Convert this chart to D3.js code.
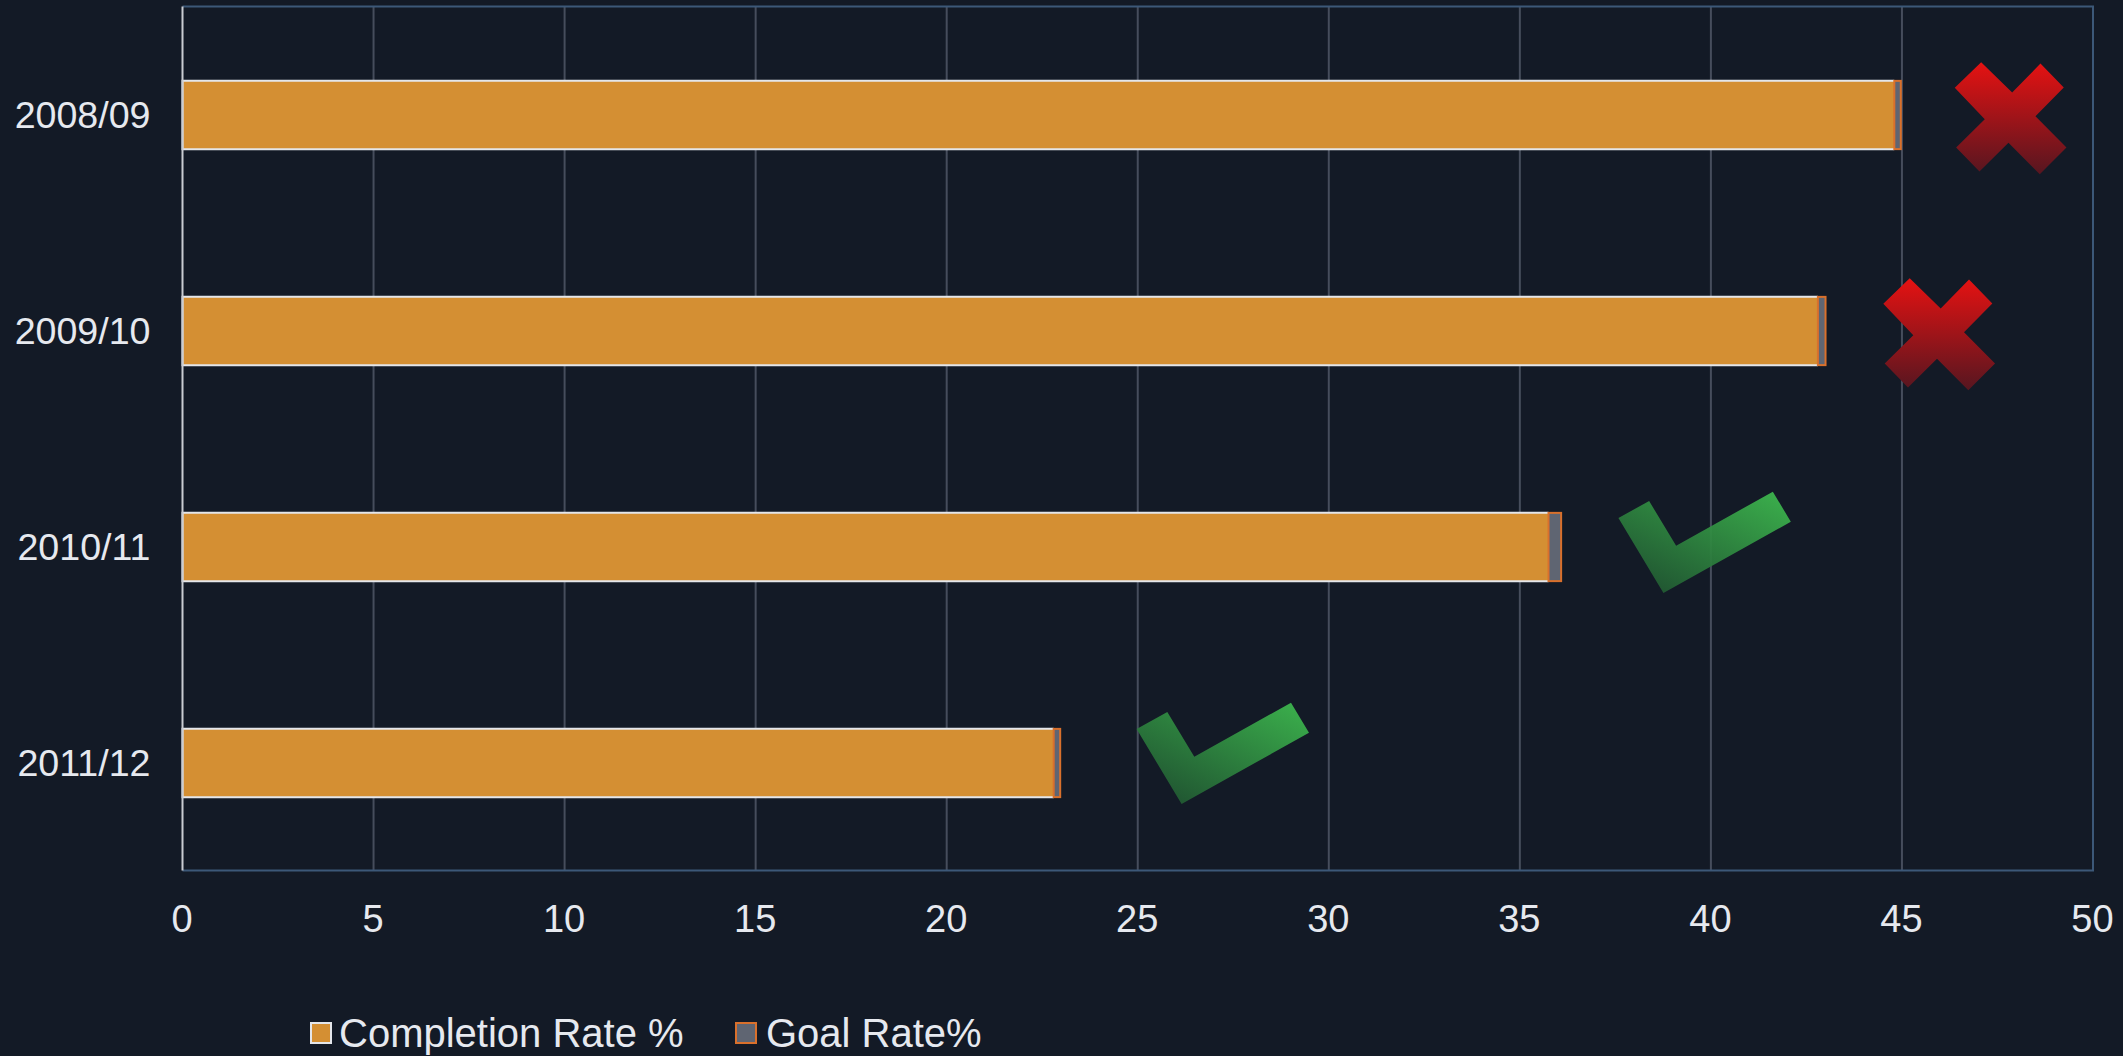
<!DOCTYPE html>
<html><head><meta charset="utf-8">
<script src="https://cdn.jsdelivr.net/npm/d3@7"></script>
<style>
html,body{margin:0;padding:0;background:#131a26;overflow:hidden}
svg{display:block}
text{font-family:"Liberation Sans",Arial,sans-serif;fill:#e6e9ef}
</style></head><body>
<svg id="c" width="2123" height="1056"></svg>
<script>
const categories = ["2008/09","2009/10","2010/11","2011/12"];
const completionRate = [44.8,42.8,35.75,22.8];
const goalRate = [44.97,43,36.08,22.97];
const statusMarks = ["cross","cross","check","check"];
const markAt = [47.84,45.97,39.09,26.48];
const xTicks = [0,5,10,15,20,25,30,35,40,45,50];
const legendLabels = ["Completion Rate %","Goal Rate%"];

const W=2123,H=1056,plotL=182.5,plotR=2093,plotT=6.5,plotB=870.5;
const svg=d3.select("#c");
svg.append("rect").attr("width",W).attr("height",H).attr("fill","#131a26");
const defs=svg.append("defs");
const g1=defs.append("linearGradient").attr("id","gCross").attr("x1",0).attr("y1",0).attr("x2",0).attr("y2",1);
g1.append("stop").attr("offset",0).attr("stop-color","#e61212");
g1.append("stop").attr("offset",1).attr("stop-color","#561620");
const g2=defs.append("linearGradient").attr("id","gCheck").attr("x1",0.08).attr("y1",1).attr("x2",0.95).attr("y2",0.05);
g2.append("stop").attr("offset",0).attr("stop-color","#1f5230");
g2.append("stop").attr("offset",1).attr("stop-color","#3db84e");

const x=d3.scaleLinear().domain([0,50]).range([plotL,plotR]);
const y=d3.scaleBand().domain(categories).range([plotT+0.5,plotB+0.5]).paddingInner(0.684).paddingOuter(0.342);

// grid
svg.append("g").selectAll("line").data(xTicks.slice(1,-1)).join("line")
 .attr("x1",d=>x(d)).attr("x2",d=>x(d)).attr("y1",plotT).attr("y2",plotB)
 .attr("stroke","#464d5c").attr("stroke-width",2);
// frame
svg.append("path").attr("d",d3.line()([[plotL,plotT],[plotR,plotT],[plotR,plotB],[plotL,plotB]]))
 .attr("fill","none").attr("stroke","#3c5878").attr("stroke-width",2);

// completion bars: outlined on three sides only
svg.append("g").selectAll("rect").data(categories).join("rect")
 .attr("x",x(0)).attr("y",d=>y(d)).attr("height",y.bandwidth())
 .attr("width",(d,i)=>x(completionRate[i])-x(0))
 .attr("fill","#d48f33");
svg.append("g").selectAll("path").data(categories).join("path")
 .attr("d",(d,i)=>d3.line()([[x(completionRate[i]),y(d)],[x(0),y(d)],[x(0),y(d)+y.bandwidth()],[x(completionRate[i]),y(d)+y.bandwidth()]]))
 .attr("fill","none").attr("stroke","#e4e6ea").attr("stroke-width",2);
// goal segment
svg.append("g").selectAll("rect").data(categories).join("rect")
 .attr("x",(d,i)=>x(completionRate[i])).attr("y",d=>y(d)).attr("height",y.bandwidth())
 .attr("width",(d,i)=>x(goalRate[i])-x(completionRate[i]))
 .attr("fill","#5f6572").attr("stroke","#d9702c").attr("stroke-width",2);

// left axis line
svg.append("line").attr("x1",plotL).attr("x2",plotL).attr("y1",plotT).attr("y2",plotB)
 .attr("stroke","#c9ccd2").attr("stroke-width",2);

// axes
const xAxis=svg.append("g").attr("transform",`translate(-1,${plotB})`)
 .call(d3.axisBottom(x).tickValues(xTicks).tickSize(0).tickPadding(35));
xAxis.select(".domain").remove();
xAxis.selectAll("text").style("font-size","38px").attr("fill","#e6e9ef");
const yAxis=svg.append("g").attr("transform",`translate(${plotL},0.5)`)
 .call(d3.axisLeft(y).tickSize(0).tickPadding(32));
yAxis.select(".domain").remove();
yAxis.selectAll("text").style("font-size","37.6px").attr("fill","#e6e9ef");

// status marks: shape outlines relative to their anchor
const crossShape=[[-29.3,-55.3],[1.7,-25],[30,-54],[53.3,-30],[25,-1.3],[56,30],[29.3,56.7],[-2,25.3],[-31,54],[-54.3,30],[-25.7,1.7],[-55.7,-29.7]];
const checkShape=[[-57.7,-29],[-27,-46],[0,-1.3],[96.7,-55.3],[114.7,-25.3],[-12.7,46]];
const markLift=[2.5,2.5,0,-5];
svg.append("g").selectAll("path").data(categories).join("path")
 .attr("transform",(d,i)=>`translate(${x(markAt[i])},${y(d)+y.bandwidth()/2+markLift[i]})`)
 .attr("d",(d,i)=>d3.line()(statusMarks[i]==="cross"?crossShape:checkShape)+"Z")
 .attr("fill",(d,i)=>statusMarks[i]==="cross"?"url(#gCross)":"url(#gCheck)")
 .attr("fill-opacity",(d,i)=>statusMarks[i]==="cross"?1:0.93);

// legend
const legendSwatchX=[311,736],legendTextX=[339,766];
const lg=svg.append("g");
lg.selectAll("rect").data(legendLabels).join("rect")
 .attr("x",(d,i)=>legendSwatchX[i]).attr("y",1023).attr("width",20).attr("height",20)
 .attr("fill",(d,i)=>i?"#5f6572":"#d48f33").attr("stroke",(d,i)=>i?"#d9702c":"#e4e6ea").attr("stroke-width",2);
lg.selectAll("text").data(legendLabels).join("text")
 .attr("x",(d,i)=>legendTextX[i]).attr("y",1047).style("font-size","40px").text(d=>d);
</script></body></html>
